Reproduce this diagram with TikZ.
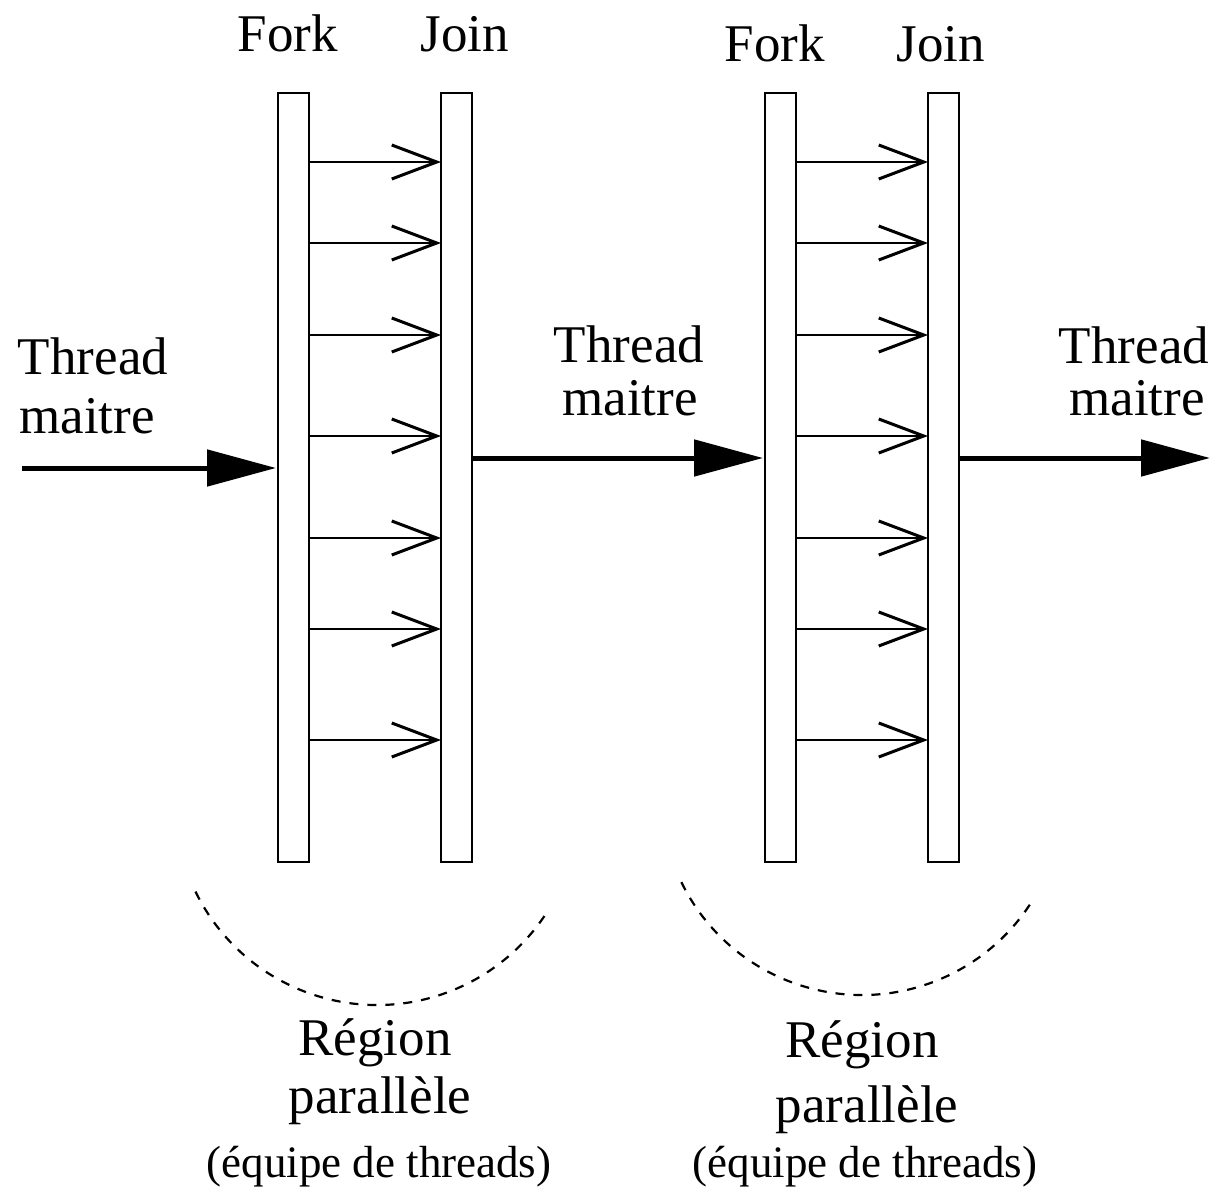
\documentclass[tikz,border=0pt]{standalone}
\usepackage{fontspec}
\setmainfont{Liberation Serif}
\usetikzlibrary{arrows.meta}
\tikzset{
  bar/.style={draw,line width=2pt,rectangle,minimum width=31pt,minimum height=769pt,
    inner sep=0pt,outer sep=0pt},
  lbl/.style={font=\fontsize{53}{53}\selectfont,inner sep=0pt,anchor=base},
  lbl-small/.style={font=\fontsize{45}{45}\selectfont,inner sep=0pt,anchor=base},
  arrow-thread/.style={-{Straight Barb[length=45pt,width=34pt,line width=3pt]},line width=1.6pt},
  arrow-master/.style={-{Triangle[length=69pt,width=36pt]},line width=5pt,shorten >=2pt},
  region/.style={line width=2.2pt,dash pattern=on 9pt off 9pt},
}
\begin{document}
\begin{tikzpicture}[x=1pt,y=-1pt]
  \useasboundingbox (0,0) rectangle (1219,1190);
  % barres fork / join
  \node[bar] (fork1) at (293.5,477.5) {};
  \node[bar] (join1) at (456.5,477.5) {};
  \node[bar] (fork2) at (780.5,477.5) {};
  \node[bar] (join2) at (943.5,477.5) {};
  \node[lbl] (fork1-lbl) at (288,52) {Fork};
  \node[lbl] (join1-lbl) at (465,52) {Join};
  \node[lbl] (fork2-lbl) at (775,62) {Fork};
  \node[lbl] (join2-lbl) at (941,62) {Join};
  % threads de l'equipe
  \foreach \y in {162,243,335,436,538,629,740} {
    \draw[arrow-thread] (fork1.east |- 0,\y) -- (join1.west |- 0,\y);
    \draw[arrow-thread] (fork2.east |- 0,\y) -- (join2.west |- 0,\y);
  }
  % thread maitre
  \coordinate (master-in) at (22,468);
  \coordinate (master-out) at (1210,458);
  \draw[arrow-master] (master-in) -- (fork1.west |- master-in);
  \draw[arrow-master] (join1.east |- master-out) -- (fork2.west |- master-out);
  \draw[arrow-master,shorten >=0pt] (join2.east |- master-out) -- (master-out);
  \node[lbl] (master1-a) at (93,375) {Thread};
  \node[lbl] (master1-b) at (87,433) {maitre};
  \node[lbl] (master2-a) at (629,363) {Thread};
  \node[lbl] (master2-b) at (630,415) {maitre};
  \node[lbl] (master3-a) at (1134,364) {Thread};
  \node[lbl] (master3-b) at (1137,415) {maitre};
  % regions paralleles
  \coordinate (team1) at (377,803);
  \coordinate (team2) at (862,794);
  \draw[region] ([shift={(154:202)}]team1) arc[start angle=154,end angle=33,radius=202];
  \draw[region] ([shift={(154:201)}]team2) arc[start angle=154,end angle=32,radius=201];
  \node[lbl] (region1-a) at (375,1055) {Région};
  \node[lbl] (region1-b) at (380,1113) {parallèle};
  \node[lbl-small] (region1-c) at (379,1177) {(équipe de threads)};
  \node[lbl] (region2-a) at (862,1057) {Région};
  \node[lbl] (region2-b) at (867,1122) {parallèle};
  \node[lbl-small] (region2-c) at (865,1177) {(équipe de threads)};
\end{tikzpicture}
\end{document}
